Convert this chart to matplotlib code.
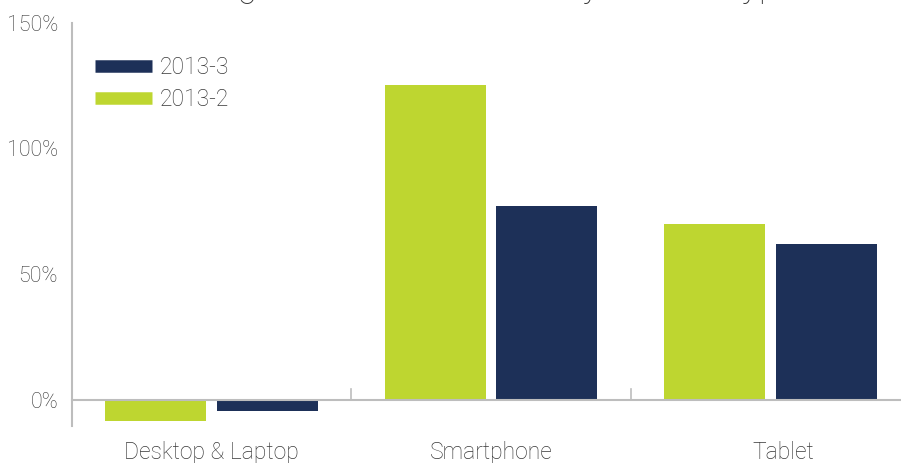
import matplotlib.pyplot as plt
import matplotlib.transforms as mtransforms
import numpy as np
from matplotlib.lines import Line2D

# Y/Y growth by device, two quarters
categories = ['Desktop & Laptop', 'Smartphone', 'Tablet']
growth_2013_2 = [-8, 125, 70]
growth_2013_3 = [-4, 77, 62]
y_ticks = [0, 50, 100, 150]

green = '#bed630'
navy = '#1d3058'
grey = '#383838'
axis_grey = '#bdbdbd'

plt.rcParams['font.family'] = ['Roboto', 'DejaVu Sans']
plt.rcParams['font.weight'] = 'light'

fig = plt.figure(figsize=(9.01, 4.63), dpi=100)
ax = fig.add_axes([0.0799, 0.0806, 0.93, 0.8708])

x = np.arange(len(categories))
w = 0.362
ax.bar(x - 0.2, growth_2013_2, w, color=green, zorder=2)
ax.bar(x + 0.2, growth_2013_3, w, color=navy, zorder=2)

# spines first: moving the bottom spine resets the x ticks
for s in ['top', 'right']:
    ax.spines[s].set_visible(False)
ax.spines['bottom'].set_position(('data', 0))
ax.spines['bottom'].set_color(axis_grey)
ax.spines['bottom'].set_linewidth(1.5)
ax.spines['left'].set_color(axis_grey)
ax.spines['left'].set_linewidth(1.5)

ax.set_xlim(-0.5, len(categories) - 0.5)
ax.set_ylim(-10, 150)

ax.tick_params(axis='y', length=0, pad=10, labelsize=15.5, labelcolor=grey)
ax.tick_params(axis='x', length=0, pad=29, labelsize=16.5, labelcolor=grey)
ax.set_yticks(y_ticks)
ax.set_yticklabels(['%d%%' % t for t in y_ticks])
ax.set_xticks(x)
ax.set_xticklabels(categories)

# last category label nudged right a little
last = ax.get_xticklabels()[-1]
last.set_transform(last.get_transform() +
                   mtransforms.ScaledTranslation(13 / 100, 0, fig.dpi_scale_trans))

# category boundaries marked with short ticks on the zero line
for b in x[:-1] + 0.5:
    ax.plot([b, b], [0, 4.5], color=axis_grey, lw=1.2, zorder=1, clip_on=False)

handles = [Line2D([0], [0], color=navy, lw=9, solid_capstyle='butt'),
           Line2D([0], [0], color=green, lw=9, solid_capstyle='butt')]
leg = ax.legend(handles, ['2013-3', '2013-2'], loc='upper left',
                bbox_to_anchor=(0.003, 0.968), frameon=False, handlelength=2.5,
                handletextpad=0.3, labelspacing=0.4, prop={'size': 16.5})
for t in leg.get_texts():
    t.set_color(grey)

# title runs off the top edge
fig.text(0.538, 1.008, 'Google Y/Y Click Growth by Device Type', ha='center',
         va='baseline', fontsize=26, color=grey)

fig.savefig('out.png', dpi=100)
